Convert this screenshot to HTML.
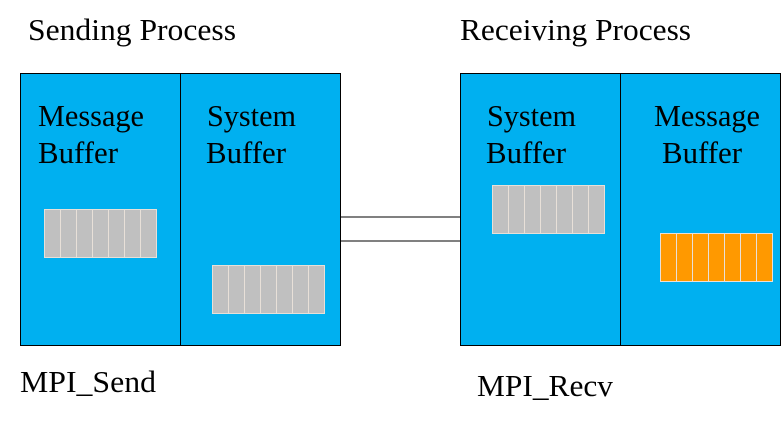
<!DOCTYPE html>
<html><head><meta charset="utf-8"><style>
html,body{margin:0;padding:0;background:#fff;}
svg{display:block;}
svg text{font-family:"Liberation Serif","DejaVu Serif","Noto Serif CJK SC",serif;font-size:31px;fill:#000;}
</style></head><body>
<svg width="781" height="423" viewBox="0 0 781 423" xmlns="http://www.w3.org/2000/svg">
<rect x="0" y="0" width="781" height="423" fill="#fff"/>
<text x="28" y="40" textLength="208" lengthAdjust="spacingAndGlyphs">Sending Process</text>
<text x="460" y="40" textLength="231" lengthAdjust="spacingAndGlyphs">Receiving Process</text>
<line x1="340" y1="217" x2="460" y2="217" stroke="#000" stroke-width="1"/>
<line x1="340" y1="241" x2="460" y2="241" stroke="#000" stroke-width="1"/>
<rect x="20.5" y="73.5" width="320" height="272" fill="#00b0f0" stroke="#000" stroke-width="1"/>
<line x1="180.5" y1="73" x2="180.5" y2="346" stroke="#000"/>
<rect x="460.5" y="73.5" width="320" height="272" fill="#00b0f0" stroke="#000" stroke-width="1"/>
<line x1="620.5" y1="73" x2="620.5" y2="346" stroke="#000"/>
<text x="38" y="126" textLength="106" lengthAdjust="spacingAndGlyphs">Message</text>
<text x="38" y="163" textLength="80" lengthAdjust="spacingAndGlyphs">Buffer</text>
<text x="207" y="126" textLength="89" lengthAdjust="spacingAndGlyphs">System</text>
<text x="206" y="163" textLength="80" lengthAdjust="spacingAndGlyphs">Buffer</text>
<text x="487" y="126" textLength="89" lengthAdjust="spacingAndGlyphs">System</text>
<text x="486" y="163" textLength="80" lengthAdjust="spacingAndGlyphs">Buffer</text>
<text x="654" y="126" textLength="106" lengthAdjust="spacingAndGlyphs">Message</text>
<text x="662" y="163" textLength="80" lengthAdjust="spacingAndGlyphs">Buffer</text>
<g stroke="#e8e0d8" stroke-width="1">
<g fill="#c0c0c0">
<rect x="44.5" y="209.5" width="112" height="48"/>
<rect x="212.5" y="265.5" width="112" height="48"/>
<rect x="492.5" y="185.5" width="112" height="48"/>
</g>
<rect x="660.5" y="233.5" width="112" height="48" fill="#ff9900"/>
<path d="M60.5 209v48M76.5 209v48M92.5 209v48M108.5 209v48M124.5 209v48M140.5 209v48
M228.5 265v48M244.5 265v48M260.5 265v48M276.5 265v48M292.5 265v48M308.5 265v48
M508.5 185v48M524.5 185v48M540.5 185v48M556.5 185v48M572.5 185v48M588.5 185v48
M676.5 233v48M692.5 233v48M708.5 233v48M724.5 233v48M740.5 233v48M756.5 233v48" fill="none"/>
</g>
<text x="20" y="392" textLength="136" lengthAdjust="spacingAndGlyphs">MPI_Send</text>
<text x="477" y="396" textLength="136" lengthAdjust="spacingAndGlyphs">MPI_Recv</text>
</svg>
</body></html>
